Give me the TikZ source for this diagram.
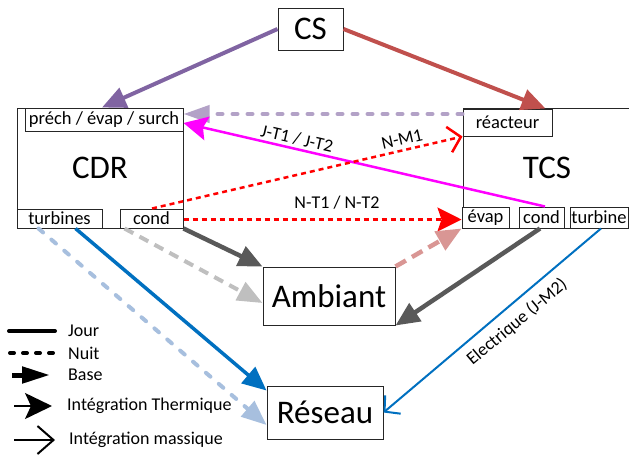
\documentclass[tikz,border=0pt]{standalone}
\usepackage{fontspec}
\setmainfont{Carlito}
\usetikzlibrary{arrows.meta}
\definecolor{cpurple}{HTML}{8064A2}
\definecolor{cbrown}{HTML}{C0504D}
\definecolor{clpurple}{HTML}{B3A2C7}
\definecolor{cmag}{HTML}{FF00FF}
\definecolor{cred}{HTML}{FF0000}
\definecolor{cpink}{HTML}{D99694}
\definecolor{cdgray}{HTML}{595959}
\definecolor{clgray}{HTML}{BFBFBF}
\definecolor{cblue}{HTML}{0070C0}
\definecolor{clblue}{HTML}{A7BFDE}
\begin{document}
\begin{tikzpicture}[x=1pt,y=-1pt,
  bigbox/.style={draw=black!85, line width=1pt, fill=white, inner sep=0pt, font=\fontsize{33}{36}\selectfont},
  subbox/.style={draw=black!85, line width=1pt, fill=white, inner sep=0pt, font=\fontsize{18.5}{20}\selectfont},
  lbl/.style={inner sep=0pt, font=\fontsize{18}{19}\selectfont},
  legtxt/.style={inner sep=0pt, anchor=west, font=\fontsize{18}{19}\selectfont},
  basetip/.style={-{Triangle[length=24pt,width=21pt]}},
  thermtip/.style={-{Stealth[length=24pt,width=24pt,inset=4pt]}},
  masstip/.style={-{Straight Barb[length=12pt,width=26pt]}}
]
\useasboundingbox (0,0) rectangle (629,456);

% main boxes
\node[bigbox, minimum width=166pt, minimum height=120pt] (cdr) at (100,168) {CDR};
\node[bigbox, minimum width=167pt, minimum height=120pt] (tcs) at (546.5,168) {};
\node[inner sep=0pt, font=\fontsize{33}{36}\selectfont] (tcslabel) at (547,168) {TCS};
\node[bigbox, minimum width=65pt, minimum height=42pt] (cs) at (310.5,29) {CS};
\node[bigbox, minimum width=132pt, minimum height=58pt] (amb) at (329,296) {Ambiant};
\node[bigbox, minimum width=116pt, minimum height=53pt] (res) at (325,412.5) {Réseau};

% sub boxes
\node[subbox, minimum width=158pt, minimum height=23pt] (prech) at (104,119.5) {préch / évap / surch};
\node[subbox, minimum width=85pt, minimum height=19pt] (turbines) at (59.5,218.5) {turbines};
\node[subbox, minimum width=63pt, minimum height=19pt] (cdrcond) at (151.5,218.5) {cond};
\node[subbox, minimum width=89pt, minimum height=27pt] (reac) at (507.5,122.5) {réacteur};
\node[subbox, minimum width=47pt, minimum height=21pt] (evap) at (485.5,217.5) {évap};
\node[subbox, minimum width=45pt, minimum height=21pt] (tcscond) at (541.5,217.5) {cond};
\node[subbox, minimum width=58pt, minimum height=21pt] (turbine) at (599,217.5) {turbine};

% connectors
\draw[cpurple, line width=4pt, basetip] (cs.west) -- ([xshift=-2pt]prech.north);
\draw[cbrown, line width=4pt, basetip] (cs.east) -- ([xshift=-7pt]reac.north east);
\draw[clpurple, line width=4pt, line cap=round, dash pattern=on 5pt off 10pt, -{Triangle[length=26pt,width=17pt]}] ([yshift=8.5pt]reac.west) -- ([yshift=5.5pt]prech.east);
\draw[cmag, line width=2.5pt, thermtip] ([xshift=3.5pt]tcscond.north) -- ([yshift=-3.5pt]prech.east);
\draw[cred, line width=2.5pt, dash pattern=on 5pt off 4pt, masstip] ([xshift=0.5pt]cdrcond.north) -- (reac.south west);
\draw[cred, line width=2.5pt, dash pattern=on 5pt off 4pt, thermtip] ([yshift=-1pt]cdrcond.east) -- ([yshift=-1pt]cdrcond.east -| evap.west);
\draw[cpink, line width=4.5pt, dash pattern=on 12pt off 7pt, -{Triangle[length=25pt,width=21pt]}] (amb.north east) -- (evap.south west);
\draw[cdgray, line width=4.5pt, basetip] (cdrcond.south east) -- (amb.north west);
\draw[clgray, line width=4pt, dash pattern=on 10pt off 7pt, -{Triangle[length=25pt,width=20pt]}] ([xshift=5pt]cdrcond.south west) -- ([yshift=-7pt]amb.west);
\draw[cdgray, line width=4.5pt, basetip] ([xshift=-1.5pt]tcscond.south) -- (amb.south east);
\draw[cblue, line width=3.5pt, basetip] ([xshift=16pt]turbines.south) -- ([yshift=-5pt]res.north west);
\draw[clblue, line width=4pt, line cap=round, dash pattern=on 6pt off 11pt, -{Triangle[length=25pt,width=20pt]}] ([xshift=-21pt]turbines.south) -- ([yshift=-12.5pt]res.west);
\draw[cblue, line width=2pt, -{Straight Barb[length=11pt,width=24pt]}] ([xshift=2pt]turbine.south) -- (res.east);

% connector labels
\node[lbl, rotate=-13] (ljt) at (297,139) {J-T1 / J-T2};
\node[lbl, rotate=13] (lnm) at (402,139) {N-M1};
\node[lbl] (lnt) at (337,203) {N-T1 / N-T2};
\node[lbl, rotate=40] (lel) at (517,322) {Electrique (J-M2)};

% legend
\node[legtxt] (ljour) at (68,331) {Jour};
\node[legtxt] (lnuit) at (68,353) {Nuit};
\node[legtxt] (lbase) at (68,375) {Base};
\node[legtxt] (ltherm) at (67,406) {Intégration Thermique};
\node[legtxt] (lmass) at (69,440) {Intégration massique};
\draw[black, line width=4pt, line cap=round] ([xshift=-59pt]ljour.west) -- ([xshift=-13pt]ljour.west);
\draw[black, line width=4pt, line cap=round, dash pattern=on 4pt off 9pt] ([xshift=-58pt]lnuit.west) -- ([xshift=-13pt]lnuit.west);
\draw[black, line width=5pt, -{Triangle[length=28pt,width=16pt]}] ([xshift=-56pt]lbase.west) -- ([xshift=-18pt]lbase.west);
\draw[black, line width=2pt, -{Stealth[length=27pt,width=26pt,inset=6pt]}] ([xshift=-53pt]ltherm.west) -- ([xshift=-15pt]ltherm.west);
\draw[black, line width=2pt, -{Straight Barb[length=16pt,width=28pt]}] ([xshift=-55pt]lmass.west) -- ([xshift=-14pt]lmass.west);
\end{tikzpicture}
\end{document}
